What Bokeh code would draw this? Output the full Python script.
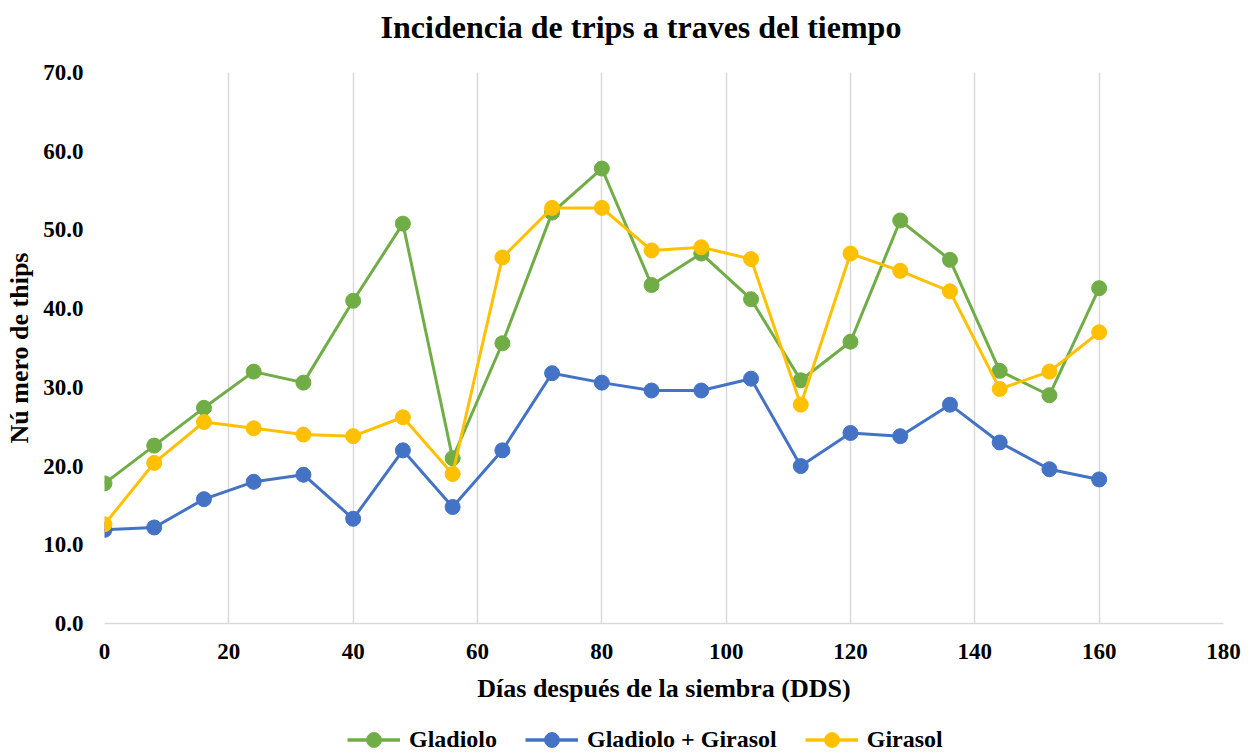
from bokeh.plotting import figure
from bokeh.layouts import column
from bokeh.models import Legend, LegendItem, FixedTicker, NumeralTickFormatter, Range1d, Label
from bokeh.embed import file_html
from bokeh.resources import INLINE

dds = [0, 8, 16, 24, 32, 40, 48, 56, 64, 72, 80, 88, 96, 104, 112, 120, 128, 136, 144, 152, 160]
gladiolo = [17.8, 22.6, 27.4, 32.0, 30.6, 41.0, 50.8, 21.0, 35.6, 52.2, 57.8, 43.0, 47.0, 41.2,
            30.9, 35.8, 51.2, 46.2, 32.1, 29.0, 42.6]
gladiolo_girasol = [11.9, 12.2, 15.8, 18.0, 18.9, 13.3, 22.0, 14.8, 22.0, 31.8, 30.6, 29.6, 29.6,
                    31.1, 20.0, 24.2, 23.8, 27.8, 23.0, 19.6, 18.3]
girasol = [12.6, 20.4, 25.6, 24.8, 24.0, 23.8, 26.2, 19.0, 46.5, 52.8, 52.8, 47.4, 47.8, 46.3,
           27.8, 47.0, 44.8, 42.2, 29.8, 32.0, 37.0]

series_names = ["Gladiolo", "Gladiolo + Girasol", "Girasol"]
series_vals = [gladiolo, gladiolo_girasol, girasol]
colors = ["#70AD47", "#4472C4", "#FFC000"]
x_ticks = [0, 20, 40, 60, 80, 100, 120, 140, 160, 180]
y_ticks = [0, 10, 20, 30, 40, 50, 60, 70]
title_text = "Incidencia de trips a traves del tiempo"

FONT = "Liberation Serif"
xr = Range1d(0, 180)

# title strip
pt = figure(width=1253, height=52, output_backend="svg", toolbar_location=None,
            x_range=xr, y_range=Range1d(0, 1),
            x_axis_location=None, y_axis_location=None,
            min_border_left=0, min_border_right=0, min_border_top=0, min_border_bottom=0)
pt.outline_line_color = None
pt.xgrid.visible = False
pt.ygrid.visible = False
pt.add_layout(Label(x=86.3, y=0.5, text=title_text, text_align="center",
                    text_baseline="middle", text_font=FONT, text_font_size="32px",
                    text_font_style="bold", text_color="#000000"))

# main chart
p = figure(width=1253, height=659, output_backend="svg", toolbar_location=None,
           x_range=xr, y_range=Range1d(0, 70),
           min_border_left=104, min_border_right=30, min_border_top=20, min_border_bottom=88)

p.outline_line_color = None
p.background_fill_color = "white"

p.xgrid.ticker = FixedTicker(ticks=x_ticks)
p.xgrid.grid_line_color = "#D9D9D9"
p.xgrid.grid_line_width = 1.5
p.ygrid.grid_line_color = None

p.xaxis.ticker = FixedTicker(ticks=x_ticks)
p.yaxis.ticker = FixedTicker(ticks=y_ticks)
p.yaxis.formatter = NumeralTickFormatter(format="0.0")

for ax in (p.xaxis[0], p.yaxis[0]):
    ax.major_tick_line_color = None
    ax.minor_tick_line_color = None
    ax.major_label_text_font = FONT
    ax.major_label_text_font_size = "23px"
    ax.major_label_text_font_style = "bold"
    ax.major_label_text_color = "#000000"
    ax.axis_label_text_font = FONT
    ax.axis_label_text_font_size = "26px"
    ax.axis_label_text_font_style = "bold"
    ax.axis_label_text_color = "#000000"

p.xaxis.axis_line_color = "#D9D9D9"
p.xaxis.axis_line_width = 1.5
p.yaxis.axis_line_color = None
p.xaxis.axis_label = "Días después de la siembra (DDS)"
p.yaxis.axis_label = "Nú mero de thips"
p.xaxis.major_label_standoff = 14
p.yaxis.major_label_standoff = 15
p.xaxis.axis_label_standoff = 12
p.yaxis.axis_label_standoff = 6

for vals, c in zip(series_vals, colors):
    p.line(dds, vals, line_color=c, line_width=3)
    p.scatter(dds, vals, size=15, fill_color=c, line_color=c)

# legend strip below the chart (its renderers lie outside its view, only the legend shows)
pl = figure(width=1253, height=42, output_backend="svg", toolbar_location=None,
            x_range=Range1d(-1000, -999), y_range=Range1d(-1000, -999),
            x_axis_location=None, y_axis_location=None,
            min_border_left=0, min_border_right=0, min_border_top=0, min_border_bottom=0)
pl.outline_line_color = None
pl.xgrid.visible = False
pl.ygrid.visible = False
items = []
for name, vals, c in zip(series_names, series_vals, colors):
    l = pl.line(dds, vals, line_color=c, line_width=3.5)
    s = pl.scatter(dds, vals, size=15, fill_color=c, line_color=c)
    items.append(LegendItem(label=name, renderers=[l, s]))

legend = Legend(items=items, orientation="horizontal", location=(243, -5),
                label_text_font=FONT, label_text_font_size="24px",
                label_text_font_style="bold", label_text_color="#000000",
                border_line_color=None, background_fill_alpha=0,
                glyph_width=53, glyph_height=37,
                label_standoff=9, spacing=28, padding=0, margin=0)
pl.add_layout(legend, "center")

layout = column(pt, p, pl, spacing=0)
open("out.html", "w").write(file_html(layout, INLINE))
